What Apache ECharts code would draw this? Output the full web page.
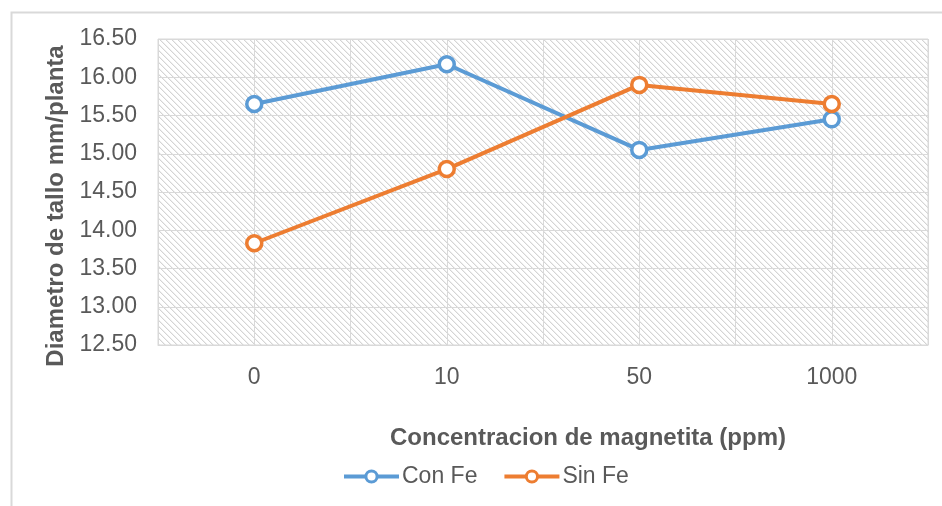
<!DOCTYPE html>
<html>
<head>
<meta charset="utf-8">
<script src="https://cdn.jsdelivr.net/npm/echarts@6/dist/echarts.min.js"></script>
<style>
html,body{margin:0;padding:0;background:#fff;}
#main{width:942px;height:506px;}
</style>
</head>
<body>
<div id="main"></div>
<script>
var categories = ['0', '10', '50', '1000'];
var conFe = [15.65, 16.17, 15.05, 15.45];
var sinFe = [13.83, 14.80, 15.90, 15.65];
var seriesNames = ['Con Fe', 'Sin Fe'];
var yMin = 12.5, yMax = 16.5, yStep = 0.5;
var colors = ['#5B9BD5', '#ED7D31'];

var tile = document.createElement('canvas');
tile.width = 6; tile.height = 6;
var tc = tile.getContext('2d');
tc.fillStyle = '#ffffff';
tc.fillRect(0, 0, 6, 6);
tc.fillStyle = '#d4d4d4';
for (var i = 0; i < 6; i++) { tc.fillRect(i, i, 1, 1); }
tc.fillStyle = '#efefef';
for (var j = 0; j < 6; j++) { tc.fillRect((j + 1) % 6, j, 1, 1); }

var chart = echarts.init(document.getElementById('main'));
var font = 'Liberation Sans, Arial, sans-serif';
var gridLeft = 158, gridTop = 39, gridRight = 942 - 928, gridBottom = 506 - 345;

chart.setOption({
  animation: false,
  backgroundColor: '#ffffff',
  graphic: [{
    type: 'rect', left: 9, top: 10, silent: true,
    shape: { x: 0, y: 0, width: 1000, height: 1000 },
    style: { fill: 'none', stroke: '#d9d9d9', lineWidth: 2 }
  }],
  grid: {
    left: gridLeft, top: gridTop, right: gridRight, bottom: gridBottom,
    show: true, borderColor: '#d9d9d9', borderWidth: 1,
    backgroundColor: { image: tile, repeat: 'repeat' }
  },
  legend: {
    data: [
      { name: seriesNames[0], lineStyle: { color: colors[0], width: 4 }, itemStyle: { color: '#fff', borderColor: colors[0], borderWidth: 3 } },
      { name: seriesNames[1], lineStyle: { color: colors[1], width: 4 }, itemStyle: { color: '#fff', borderColor: colors[1], borderWidth: 3 } }
    ],
    bottom: 18, left: 342, padding: 0,
    itemWidth: 55, itemHeight: 14, itemGap: 25,
    textStyle: { fontFamily: font, fontSize: 23, color: '#595959', padding: [0, 0, 0, -2] }
  },
  xAxis: [{
    type: 'category', data: categories, boundaryGap: true,
    name: 'Concentracion de magnetita (ppm)', nameLocation: 'middle', nameGap: 81,
    nameTextStyle: { fontFamily: font, fontSize: 24, fontWeight: 'bold', color: '#595959', padding: [0, 0, 0, 90] },
    axisLine: { show: true, lineStyle: { color: '#d9d9d9', width: 1 } },
    axisTick: { show: false },
    axisLabel: { fontFamily: font, fontSize: 23, color: '#595959', margin: 21 },
    splitLine: { show: false }
  }, {
    type: 'category', data: ['', '', '', '', '', '', '', ''], boundaryGap: true,
    position: 'bottom', show: true,
    axisLine: { show: false }, axisTick: { show: false }, axisLabel: { show: false },
    splitLine: { show: true, lineStyle: { color: '#d9d9d9', width: 1 } }
  }],
  yAxis: {
    type: 'value', min: yMin, max: yMax, interval: yStep,
    name: 'Diametro de tallo mm/planta', nameLocation: 'middle', nameGap: 86,
    nameTextStyle: { fontFamily: font, fontSize: 24, fontWeight: 'bold', color: '#595959', padding: [0, 28, 0, 0] },
    axisLine: { show: false }, axisTick: { show: false },
    axisLabel: { fontFamily: font, fontSize: 23, color: '#595959', margin: 21,
      formatter: function (v) { return v.toFixed(2); } },
    splitLine: { show: true, lineStyle: { color: '#d9d9d9', width: 1 } }
  },
  series: [{
    name: seriesNames[0], type: 'line', data: conFe, xAxisIndex: 0,
    symbol: 'circle', symbolSize: 15, showAllSymbol: true,
    lineStyle: { color: colors[0], width: 4 },
    itemStyle: { color: '#ffffff', borderColor: colors[0], borderWidth: 3.5 }
  }, {
    name: seriesNames[1], type: 'line', data: sinFe, xAxisIndex: 0,
    symbol: 'circle', symbolSize: 15, showAllSymbol: true,
    lineStyle: { color: colors[1], width: 4 },
    itemStyle: { color: '#ffffff', borderColor: colors[1], borderWidth: 3.5 }
  }]
});
</script>
</body>
</html>
